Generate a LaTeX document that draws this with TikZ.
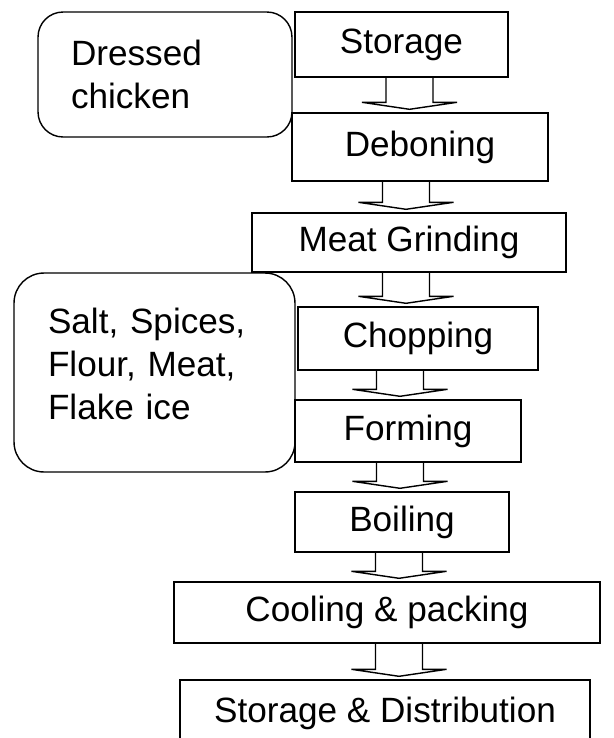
\documentclass[tikz,border=0pt]{standalone}
\usepackage{fontspec}
\setmainfont{Liberation Sans}
\usetikzlibrary{calc}

\newcommand{\flowarrow}[3]{%
  \coordinate (ax) at (#3,0);
  \draw[arrowline] ($(#1.south -| ax)+(-23.5,0)$) -- ($(#2.north -| ax)+(-23.5,-10)$)
    -- ($(#2.north -| ax)+(-47.5,-10)$) -- ($(#2.north -| ax)+(0,-3)$)
    -- ($(#2.north -| ax)+(47.5,-10)$) -- ($(#2.north -| ax)+(23.5,-10)$)
    -- ($(#1.south -| ax)+(23.5,0)$);
}

\begin{document}
\begin{tikzpicture}[x=0.02cm,y=-0.02cm,
    every node/.style={font=\fontsize{20}{24.5}\selectfont},
    stepbox/.style 2 args={draw,line width=0.8pt,fill=white,inner sep=0pt,minimum width=#1*0.02cm,minimum height=#2*0.02cm},
    inputbox/.style={draw,line width=0.8pt,fill=white,rounded corners=0.5cm,align=left,inner ysep=0pt},
    arrowline/.style={line width=0.8pt,line join=miter}]
  \useasboundingbox (0,0) rectangle (614,738);

  \node[inputbox,text width=3.76cm,inner xsep=0.66cm,minimum height=2.5cm] (chicken) at (165,74.5) {Dressed\\chicken};
  \node[inputbox,text width=4.26cm,inner xsep=0.68cm,minimum height=3.98cm,rounded corners=0.6cm,text depth=59pt] (additives) at (154.5,372.5) {Salt, Spices,\\Flour, Meat,\\Flake ice};

  \node[stepbox={213}{65}] (storage) at (401.5,44.5) {Storage};
  \node[stepbox={256}{68}] (deboning) at (420,147) {Deboning};
  \node[stepbox={314}{59}] (grinding) at (409,242.5) {Meat Grinding};
  \node[stepbox={240}{63}] (chopping) at (418,338.5) {Chopping};
  \node[stepbox={226}{62}] (forming) at (408,431) {Forming};
  \node[stepbox={214}{60}] (boiling) at (402,522) {Boiling};
  \node[stepbox={426}{61}] (cooling) at (387,612.5) {Cooling \& packing};
  \node[stepbox={410}{66}] (storedist) at (385,713) {Storage \& Distribution};

  \flowarrow{storage}{deboning}{409.5}
  \flowarrow{deboning}{grinding}{406}
  \flowarrow{grinding}{chopping}{406}
  \flowarrow{chopping}{forming}{400}
  \flowarrow{forming}{boiling}{400}
  \flowarrow{boiling}{cooling}{399}
  \flowarrow{cooling}{storedist}{399}
\end{tikzpicture}
\end{document}
